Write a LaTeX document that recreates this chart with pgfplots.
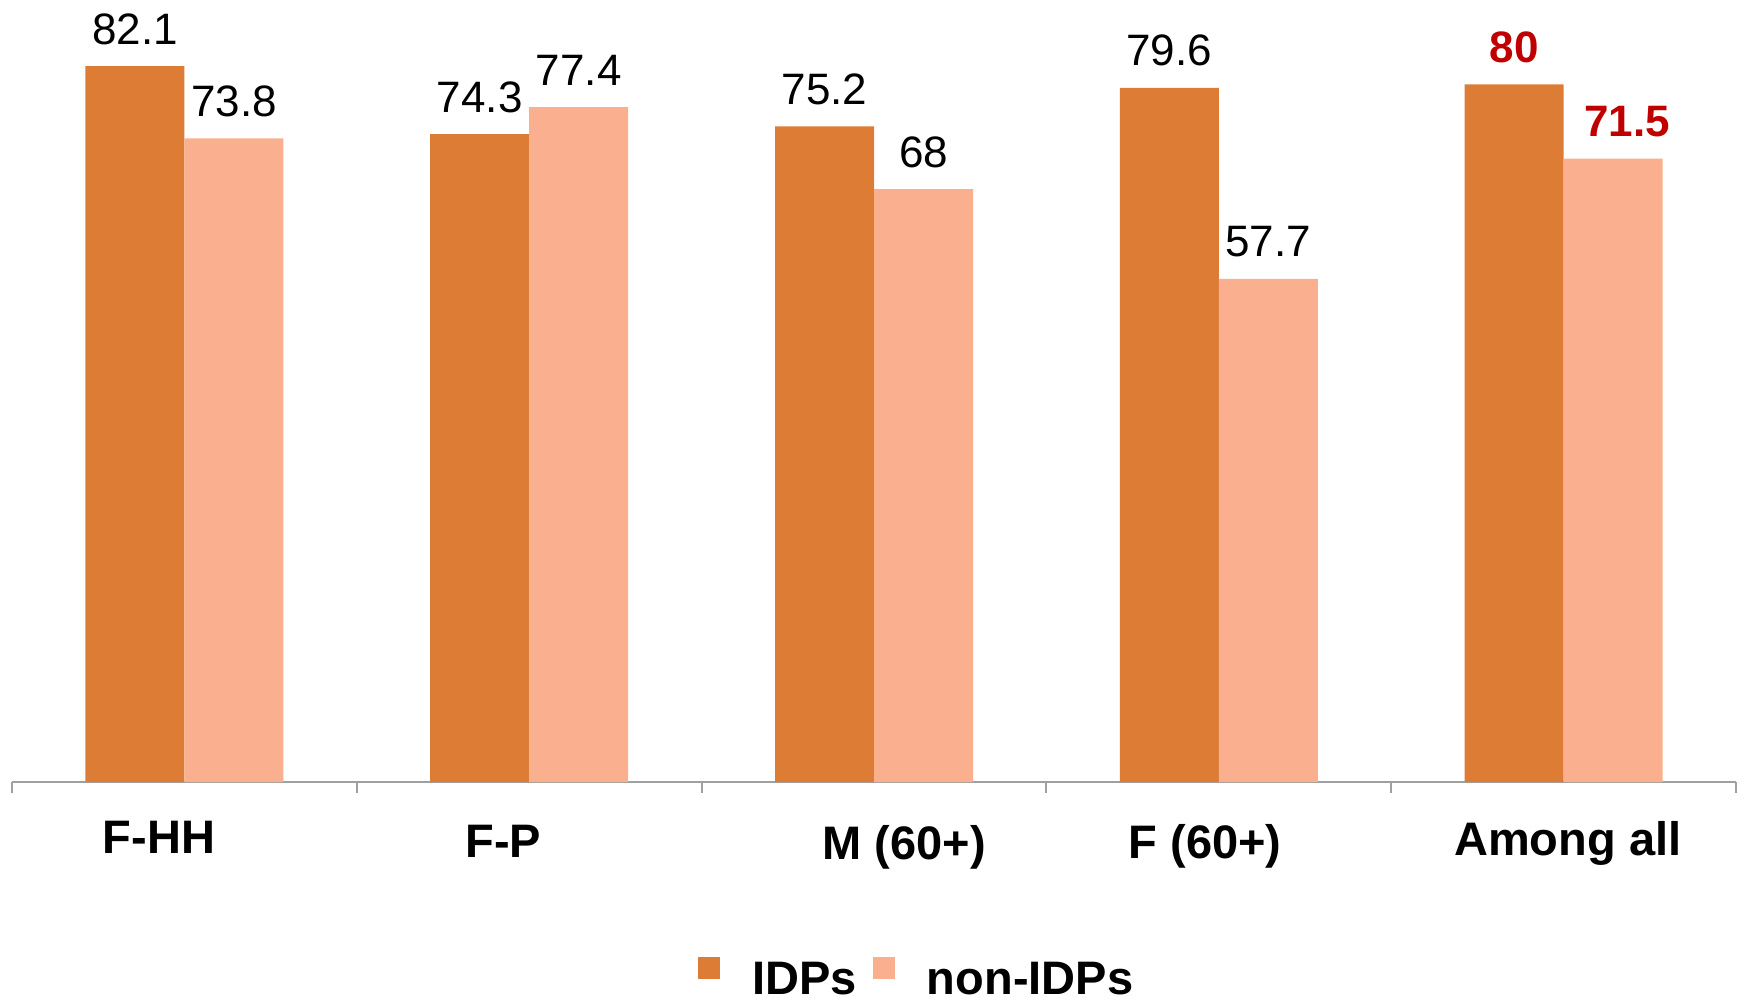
\documentclass[border=0pt]{standalone}
\usepackage{fontspec}
\setmainfont{Liberation Sans}
\usepackage{pgfplots}
\pgfplotsset{compat=1.18}
\definecolor{idp}{HTML}{DD7D35}
\definecolor{nonidp}{HTML}{FAB08E}
\definecolor{idred}{HTML}{C00000}
\definecolor{axgray}{HTML}{A0A0A0}
\DeclareRobustCommand\hl[1]{\textbf{\textcolor{idred}{#1}}}
\begin{document}
\begin{tikzpicture}
\begin{axis}[
  scale only axis, width=862pt, height=391pt,
  xmin=-0.5, xmax=4.5, ymin=0, ymax=89.68,
  ybar=0pt, bar width=49.5pt,
  axis y line=none, axis x line*=bottom,
  x axis line style={axgray, line width=1pt},
  xtick={-0.5,0.5,1.5,2.5,3.5,4.5}, xticklabels={},
  tick align=outside, major tick length=5.5pt,
  x tick style={axgray, line width=1pt},
  clip=false,
  point meta=explicit symbolic,
  nodes near coords,
  nodes near coords style={anchor=base, yshift=11pt, inner sep=0pt, text=black, font=\fontsize{22}{26}\selectfont},
  legend columns=2,
  legend style={at={(0,0)}, anchor=south west, xshift=343pt, yshift=-108pt, draw=none, inner sep=0pt,
    font=\fontsize{23.5}{28}\selectfont\bfseries, nodes={inner sep=0pt},
    column sep=16pt, /tikz/every even column/.append style={column sep=8pt}},
  legend image code/.code={\fill[#1] (0pt,0.5pt) rectangle (11pt,11.5pt);},
]
\addplot[fill=idp, draw=none] coordinates {(0,82.1) [82.1] (1,74.3) [74.3] (2,75.2) [75.2] (3,79.6) [79.6] (4,80) [\hl{80}]};
\addplot[fill=nonidp, draw=none] coordinates {(0,73.8) [73.8] (1,77.4) [77.4] (2,68) [68] (3,57.7) [57.7] (4,71.5) [\hl{\hspace*{14pt}71.5}]};
\legend{IDPs, non-IDPs}
\coordinate (O) at (rel axis cs:0,0);
\begin{scope}[every node/.style={anchor=base, inner sep=0pt, font=\fontsize{23.5}{28}\selectfont\bfseries}]
\node at ([yshift=-35.5pt]axis cs:-0.074,0) {F-HH};
\node at ([yshift=-37.5pt]axis cs:0.925,0) {F-P};
\node at ([yshift=-38.5pt]axis cs:2.088,0) {M (60+)};
\node at ([yshift=-38pt]axis cs:2.96,0) {F (60+)};
\node at ([yshift=-36.5pt]axis cs:4.012,0) {Among all};
\end{scope}
\end{axis}
\pgfresetboundingbox
\path[use as bounding box] ([xshift=-6pt,yshift=-110pt]O) rectangle ([xshift=867.5pt,yshift=391pt]O);
\end{tikzpicture}
\end{document}
